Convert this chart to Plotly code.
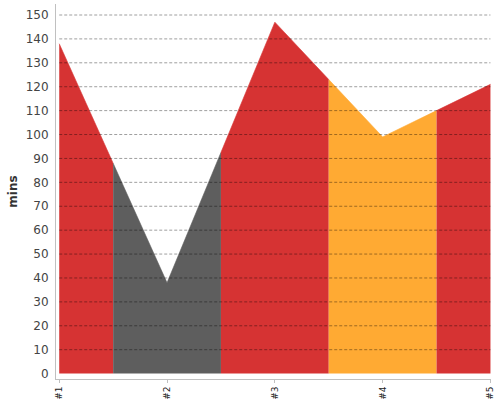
import plotly.graph_objects as go

# data
labels = ["#1", "#2", "#3", "#4", "#5"]
values = [138, 38, 147, 99, 121]
colors = ["#d63333", "#5e5e5e", "#d63333", "#ffaa33", "#d63333"]
y_ticks = list(range(0, 160, 10))

_FONT = "DejaVu Sans"
_AXIS_LINE = "#c0c0c0"
_GRID = "rgba(0,0,0,0.38)"

fig = go.Figure()

# each point owns the band halfway to its neighbours
n = len(values)
for i in range(n):
    xs, ys = [], []
    if i > 0:
        xs.append(i - 0.5)
        ys.append((values[i - 1] + values[i]) / 2)
    xs.append(i)
    ys.append(values[i])
    if i < n - 1:
        xs.append(i + 0.5)
        ys.append((values[i] + values[i + 1]) / 2)
    fig.add_trace(
        go.Scatter(
            x=xs,
            y=ys,
            mode="lines",
            line={"color": colors[i], "width": 0.6},
            fill="tozeroy",
            fillcolor=colors[i],
            hoverinfo="skip",
            showlegend=False,
        )
    )

# dashed grid drawn over the fill
for v in y_ticks[1:]:
    fig.add_shape(
        type="line",
        xref="x",
        yref="y",
        x0=0,
        x1=n - 1,
        y0=v,
        y1=v,
        line={"color": _GRID, "width": 1, "dash": "3px,2px"},
        layer="above",
    )

fig.update_layout(
    width=500,
    height=400,
    plot_bgcolor="#ffffff",
    paper_bgcolor="#ffffff",
    margin={"l": 56, "r": 9, "t": 4, "b": 21},
    font={"family": _FONT, "size": 12, "color": "#444444"},
    showlegend=False,
    xaxis={
        "range": [-0.03, n - 1 + 0.005],
        "tickvals": list(range(n)),
        "ticktext": labels,
        "tickangle": -90,
        "tickfont": {"size": 9, "color": "#222222"},
        "ticks": "outside",
        "ticklen": 3,
        "tickcolor": _AXIS_LINE,
        "showgrid": False,
        "zeroline": False,
        "showline": True,
        "linecolor": _AXIS_LINE,
        "linewidth": 1,
        "automargin": False,
        "fixedrange": True,
    },
    yaxis={
        "range": [-2.26, 154.6],
        "tickvals": y_ticks,
        "tickfont": {"size": 12, "color": "#444444"},
        "ticks": "",
        "ticklabelstandoff": 4,
        "showgrid": False,
        "zeroline": False,
        "showline": True,
        "linecolor": _AXIS_LINE,
        "linewidth": 1,
        "automargin": False,
        "title": {
            "text": "<b>mins</b>",
            "font": {"size": 12, "color": "#333333"},
            "standoff": 5,
        },
        "fixedrange": True,
    },
)

# the page body has a default 8px margin; drop it so the chart sits at 0,0
fig.write_html(
    "out.html",
    config={"displayModeBar": False},
    post_script="document.body.style.margin = '0px';",
)
